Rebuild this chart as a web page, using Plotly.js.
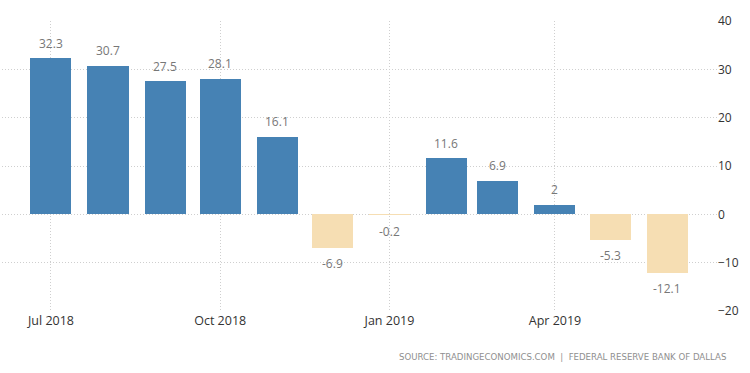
<!DOCTYPE html>
<html>
<head>
<meta charset="utf-8">
<script src="https://cdn.plot.ly/plotly-3.0.1.min.js"></script>
<style>html,body{margin:0;padding:0;background:#fff;}#chart{width:750px;height:373px;}</style>
</head>
<body>
<div id="chart"></div>
<script>
var months = ["2018-07-01","2018-08-01","2018-09-01","2018-10-01","2018-11-01","2018-12-01",
              "2019-01-01","2019-02-01","2019-03-01","2019-04-01","2019-05-01","2019-06-01"];
var values = [32.3, 30.7, 27.5, 28.1, 16.1, -6.9, -0.2, 11.6, 6.9, 2, -5.3, -12.1];
var labels = ["32.3","30.7","27.5","28.1","16.1","-6.9","-0.2","11.6","6.9","2","-5.3","-12.1"];
var tickDates = ["2018-07-01","2018-10-01","2019-01-01","2019-04-01"];
var tickLabels = ["Jul 2018","Oct 2018","Jan 2019","Apr 2019"];
var yTicks = [-20,-10,0,10,20,30,40];
var sourceText = "SOURCE: TRADINGECONOMICS.COM  |  FEDERAL RESERVE BANK OF DALLAS";

var BLUE = "#4682b4", NEG = "#f6deb3";
var colors = values.map(function(v){ return v >= 0 ? BLUE : NEG; });
var dayMs = 86400000;

var trace = {
  type: "bar",
  x: months,
  y: values,
  width: months.map(function(){ return 22.3 * dayMs; }),
  marker: {color: colors, line: {width: 0}},
  hoverinfo: "x+y"
};

var annotations = values.map(function(v, i){
  return {
    x: months[i], y: v, xref: "x", yref: "y",
    text: labels[i], showarrow: false,
    yshift: v >= 0 ? 15 : -16,
    font: {family: "Open Sans, sans-serif", size: 12, color: "#777"}
  };
});
annotations.push({
  xref: "paper", yref: "paper", x: 1, y: 0, xanchor: "right", yanchor: "middle",
  xshift: 11, yshift: -46, showarrow: false, text: sourceText,
  font: {family: "DejaVu Sans, sans-serif", size: 8.6, color: "#8f8f8f"}
});

var layout = {
  width: 750, height: 373,
  margin: {l: 2, r: 33, t: 21, b: 62, pad: 0},
  paper_bgcolor: "#fff", plot_bgcolor: "#fff",
  showlegend: false,
  bargap: 0,
  xaxis: {
    type: "date",
    range: ["2018-06-04 09:00", "2019-06-28 02:00"],
    tickvals: tickDates, ticktext: tickLabels,
    showgrid: true, gridcolor: "#cfcfcf", griddash: "1px,2px", gridwidth: 1,
    zeroline: false, showline: false, ticks: "",
    tickfont: {family: "Open Sans, sans-serif", size: 12.5, color: "#333"},
    fixedrange: true
  },
  yaxis: {
    side: "right",
    range: [-20, 40],
    tickvals: yTicks,
    showgrid: true, gridcolor: "#cfcfcf", griddash: "1px,2px", gridwidth: 1,
    zeroline: false, showline: false, ticks: "",
    tickfont: {family: "Open Sans, sans-serif", size: 12, color: "#333"},
    fixedrange: true
  },
  annotations: annotations
};

Plotly.newPlot("chart", [trace], layout, {displayModeBar: false, staticPlot: true});
</script>
</body>
</html>
